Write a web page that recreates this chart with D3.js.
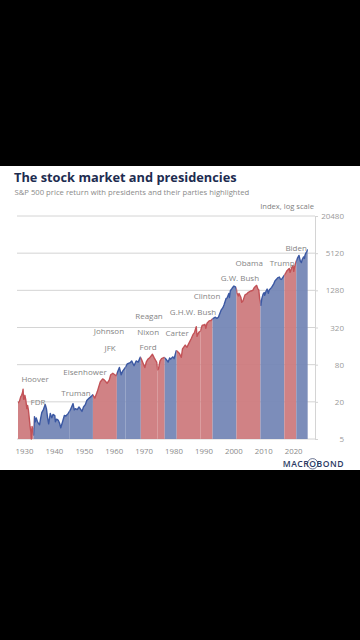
<!DOCTYPE html>
<html>
<head>
<meta charset="utf-8">
<script src="https://cdn.jsdelivr.net/npm/d3@7"></script>
<style>
  html, body { margin: 0; padding: 0; background: #000; }
  svg { display: block; }
</style>
</head>
<body>
<div id="chart"></div>
<script>
// S&P 500 price index (decimal year, level)
const years = [1928.0, 1928.5, 1928.9, 1929.2, 1929.5, 1929.7, 1929.85, 1930.0, 1930.3, 1930.6, 1930.95,
    1931.2, 1931.5, 1931.8, 1932.0, 1932.3, 1932.45, 1932.7, 1933.0, 1933.2, 1933.5, 1933.8, 1934.1, 1934.6,
    1935.2, 1935.6, 1935.95, 1936.5, 1937.1, 1937.5, 1937.9, 1938.25, 1938.8, 1939.3, 1939.7, 1940.3, 1940.5,
    1940.9, 1941.5, 1941.9, 1942.3, 1942.9, 1943.5, 1944.0, 1944.8, 1945.5, 1946.4, 1946.8, 1947.2, 1947.8,
    1948.4, 1949.4, 1949.9, 1950.5, 1951.0, 1951.8, 1952.5, 1953.0, 1953.7, 1954.5, 1954.99, 1955.5, 1956.3,
    1956.9, 1957.8, 1958.5, 1959.0, 1959.7, 1960.8, 1961.9, 1962.5, 1963.0, 1963.9, 1964.5, 1965.5, 1966.0,
    1966.8, 1967.5, 1968.2, 1968.9, 1969.5, 1970.4, 1970.95, 1971.5, 1972.0, 1972.95, 1973.5, 1973.9, 1974.4,
    1974.7, 1974.95, 1975.5, 1976.0, 1976.9, 1977.5, 1978.2, 1978.7, 1979.0, 1979.8, 1980.2, 1980.9, 1981.4,
    1981.9, 1982.6, 1983.0, 1983.9, 1984.5, 1985.0, 1985.9, 1986.5, 1987.0, 1987.6, 1987.85, 1988.5, 1988.95,
    1989.6, 1989.95, 1990.5, 1990.8, 1991.2, 1991.9, 1992.5, 1993.0, 1994.0, 1994.5, 1995.0, 1995.9, 1996.5,
    1996.9, 1997.6, 1997.9, 1998.5, 1998.7, 1999.0, 1999.5, 1999.9, 2000.2, 2000.7, 2001.0, 2001.2, 2001.7,
    2001.9, 2002.5, 2002.8, 2003.2, 2003.9, 2004.5, 2005.0, 2005.9, 2006.5, 2007.0, 2007.8, 2008.2, 2008.5,
    2008.8, 2009.0, 2009.2, 2009.5, 2009.95, 2010.3, 2010.5, 2010.95, 2011.3, 2011.7, 2012.0, 2012.8, 2013.5,
    2013.95, 2014.5, 2014.95, 2015.4, 2015.7, 2016.1, 2016.9, 2017.5, 2017.95, 2018.1, 2018.7, 2018.95,
    2019.5, 2019.95, 2020.2, 2020.5, 2020.95, 2021.5, 2021.95, 2022.4, 2022.75, 2023.0, 2023.5, 2023.8,
    2023.95, 2024.3, 2024.6, 2024.9];
const values = [19, 20.5, 24, 25.5, 28, 32, 22, 22, 25.5, 21.5, 15.5,
    17.5, 14.5, 10.5, 8.3, 6.5, 4.6, 8, 6.8, 5.8, 11.5, 9.5, 11, 9.3,
    8.5, 11, 13.4, 15, 18.1, 15.5, 11, 8.8, 13, 11, 12.5, 12, 9.5,
    10.5, 10, 9, 7.6, 9.5, 12, 11.8, 13, 14.8, 18.7, 14.8, 15.5, 15,
    16.5, 14, 16.5, 18, 21, 23, 24.5, 26, 23, 29, 35, 42, 47,
    45, 40, 45, 55, 58, 53, 72, 55, 63, 72, 82, 86, 92,
    77, 92, 88, 106, 92, 72, 90, 99, 103, 118, 104, 96, 87,
    66, 68, 92, 100, 105, 98, 88, 103, 98, 107, 100, 135, 130,
    123, 105, 144, 166, 153, 172, 210, 245, 265, 330, 230, 270, 277,
    350, 350, 360, 310, 375, 410, 415, 440, 470, 450, 470, 610, 670,
    750, 950, 960, 1140, 980, 1260, 1360, 1450, 1500, 1460, 1350, 1160, 1040,
    1140, 990, 820, 860, 1080, 1120, 1190, 1250, 1280, 1420, 1540, 1350, 1300,
    930, 850, 730, 930, 1110, 1180, 1060, 1250, 1340, 1150, 1300, 1430, 1630,
    1830, 1960, 2060, 2100, 1950, 1920, 2200, 2430, 2670, 2700, 2900, 2500,
    2950, 3230, 2600, 3100, 3700, 4300, 4700, 3800, 3600, 4000, 4450, 4200,
    4750, 5200, 5500, 5900];

// presidencies
const presidents = ["Hoover", "FDR", "Truman", "Eisenhower", "JFK", "Johnson", "Nixon", "Ford", "Carter",
    "Reagan", "G.H.W. Bush", "Clinton", "G.W. Bush", "Obama", "Trump", "Biden"];
const termStarts = [1928.0, 1933.2, 1945.3, 1953.05, 1961.05, 1963.9, 1969.05, 1974.6, 1977.05,
    1981.05, 1989.05, 1993.05, 2001.05, 2009.05, 2017.05, 2021.05];
const termEnds = [1933.2, 1945.3, 1953.05, 1961.05, 1963.9, 1969.05, 1974.6, 1977.05, 1981.05,
    1989.05, 1993.05, 2001.05, 2009.05, 2017.05, 2021.05, 2024.9];
const parties = ["R", "D", "D", "R", "D", "D", "R", "R", "D", "R", "R", "D", "R", "D", "R", "D"];

const yTicks = [5, 20, 80, 320, 1280, 5120, 20480];
const xTicks = [1930, 1940, 1950, 1960, 1970, 1980, 1990, 2000, 2010, 2020];

// where each name sits, in (year, index level)
const labelAt = [[1933.7, 47], [1934.7, 19.8], [1947.4, 27.8], [1950.4, 61], [1958.8, 149], [1958.4, 279],
    [1971.5, 269], [1971.5, 154], [1981.2, 259], [1971.8, 491], [1986.5, 569], [1991.2, 1032],
    [2002.2, 2015], [2005.3, 3527], [2016.3, 3527], [2021.0, 6137]];

function setupChart() {
    const width = 360
    const height = 640
    const top = 166
    const bottom = 470

    const fillColor = {R: "#cd7a7d", D: "#7486b6"};
    const lineColor = {R: "#c25257", D: "#3b58a3"};
    const font = "'Open Sans', sans-serif";

    let svg = d3.select("#chart")
        .append("svg")
        .attr("width", width)
        .attr("height", height);

    svg.append("rect")
        .attr("width", width)
        .attr("height", height)
        .attr("fill", "#000");

    svg.append("rect")
        .attr("y", top)
        .attr("width", width)
        .attr("height", bottom - top)
        .attr("fill", "#fff");

    let x = d3.scaleLinear()
        .domain([1928, 2027.3])
        .range([18, 315]);

    let y = d3.scaleLog()
        .base(4)
        .domain([5, 20480])
        .range([439, 216])
        .clamp(true);

    let data = years.map((yr, i) => ({year: yr, value: values[i]}));

    // titles
    svg.append("text")
        .attr("x", 14)
        .attr("y", 182)
        .style("font-family", font)
        .style("font-size", "12.8px")
        .style("font-weight", 700)
        .attr("fill", "#1d2c50")
        .text("The stock market and presidencies");

    svg.append("text")
        .attr("x", 14.5)
        .attr("y", 194.5)
        .style("font-family", font)
        .style("font-size", "7.7px")
        .attr("fill", "#8a8a8a")
        .text("S&P 500 price return with presidents and their parties highlighted");

    svg.append("text")
        .attr("x", 314)
        .attr("y", 208.5)
        .attr("text-anchor", "end")
        .style("font-family", font)
        .style("font-size", "7.6px")
        .attr("fill", "#808080")
        .text("Index, log scale");

    // gridlines
    svg.append("g")
        .selectAll("line")
        .data(yTicks)
        .enter()
        .append("line")
        .attr("x1", 17)
        .attr("x2", 315)
        .attr("y1", d => y(d))
        .attr("y2", d => y(d))
        .attr("stroke", "#d4d4d4")
        .attr("stroke-width", 1);

    // right axis
    let yAxis = svg.append("g")
        .attr("transform", "translate(315,0)")
        .call(d3.axisRight(y).tickValues(yTicks).tickFormat(d3.format("d")).tickSize(3).tickPadding(26));
    yAxis.select(".domain").attr("stroke", "#d4d4d4");
    yAxis.selectAll(".tick line").attr("stroke", "#d4d4d4");
    yAxis.selectAll("text")
        .attr("text-anchor", "end")
        .style("font-family", font)
        .style("font-size", "8px")
        .attr("fill", "#9a9a9a");

    // bottom axis, labels only
    let xAxis = svg.append("g")
        .attr("transform", "translate(0,439)")
        .call(d3.axisBottom(x).tickValues(xTicks).tickFormat(d3.format("d")).tickSize(0).tickPadding(9));
    xAxis.select(".domain").remove();
    xAxis.selectAll("text")
        .style("font-family", font)
        .style("font-size", "7.8px")
        .attr("fill", "#8a8a8a");

    let area = d3.area()
        .x(d => x(d.year))
        .y0(y(5))
        .y1(d => y(d.value));

    let line = d3.line()
        .x(d => x(d.year))
        .y(d => y(d.value));

    let defs = svg.append("defs");
    let terms = presidents.map((p, i) => ({name: p, start: termStarts[i], end: termEnds[i], party: parties[i], i: i}));

    defs.selectAll("clipPath")
        .data(terms)
        .enter()
        .append("clipPath")
        .attr("id", d => "term" + d.i)
        .append("rect")
        .attr("x", d => x(d.start))
        .attr("width", d => x(d.end) - x(d.start))
        .attr("y", 200)
        .attr("height", 245);

    let termGroups = svg.selectAll(".term")
        .data(terms)
        .enter()
        .append("g")
        .attr("clip-path", d => "url(#term" + d.i + ")");

    termGroups.append("path")
        .attr("d", area(data))
        .attr("fill", d => fillColor[d.party])
        .style("opacity", 0.94);

    termGroups.append("path")
        .attr("d", line(data))
        .attr("fill", "none")
        .attr("stroke", d => lineColor[d.party])
        .attr("stroke-width", 1.4)
        .attr("stroke-linejoin", "round");

    // president names
    svg.selectAll(".pres")
        .data(terms)
        .enter()
        .append("text")
        .attr("x", d => x(labelAt[d.i][0]))
        .attr("y", d => y(labelAt[d.i][1]))
        .attr("dy", "0.35em")
        .attr("text-anchor", "middle")
        .style("font-family", font)
        .style("font-size", "8px")
        .attr("fill", "#858585")
        .text(d => d.name);

    // logo
    let logo = svg.append("text")
        .attr("x", 344)
        .attr("y", 466.5)
        .attr("text-anchor", "end")
        .style("font-family", font)
        .style("font-size", "8.6px")
        .style("font-weight", 600)
        .style("letter-spacing", "0.5px")
        .attr("fill", "#2b3a63")
        .text("MACROBOND");
    let o = logo.node().getExtentOfChar(4);
    svg.append("circle")
        .attr("cx", o.x + o.width / 2 - 0.3)
        .attr("cy", o.y + o.height / 2 + 0.3)
        .attr("r", 5.2)
        .attr("fill", "none")
        .attr("stroke", "#2b3a63")
        .attr("stroke-width", 0.7);

    console.log(`[] chart created`);
}

setupChart();
</script>
</body>
</html>
